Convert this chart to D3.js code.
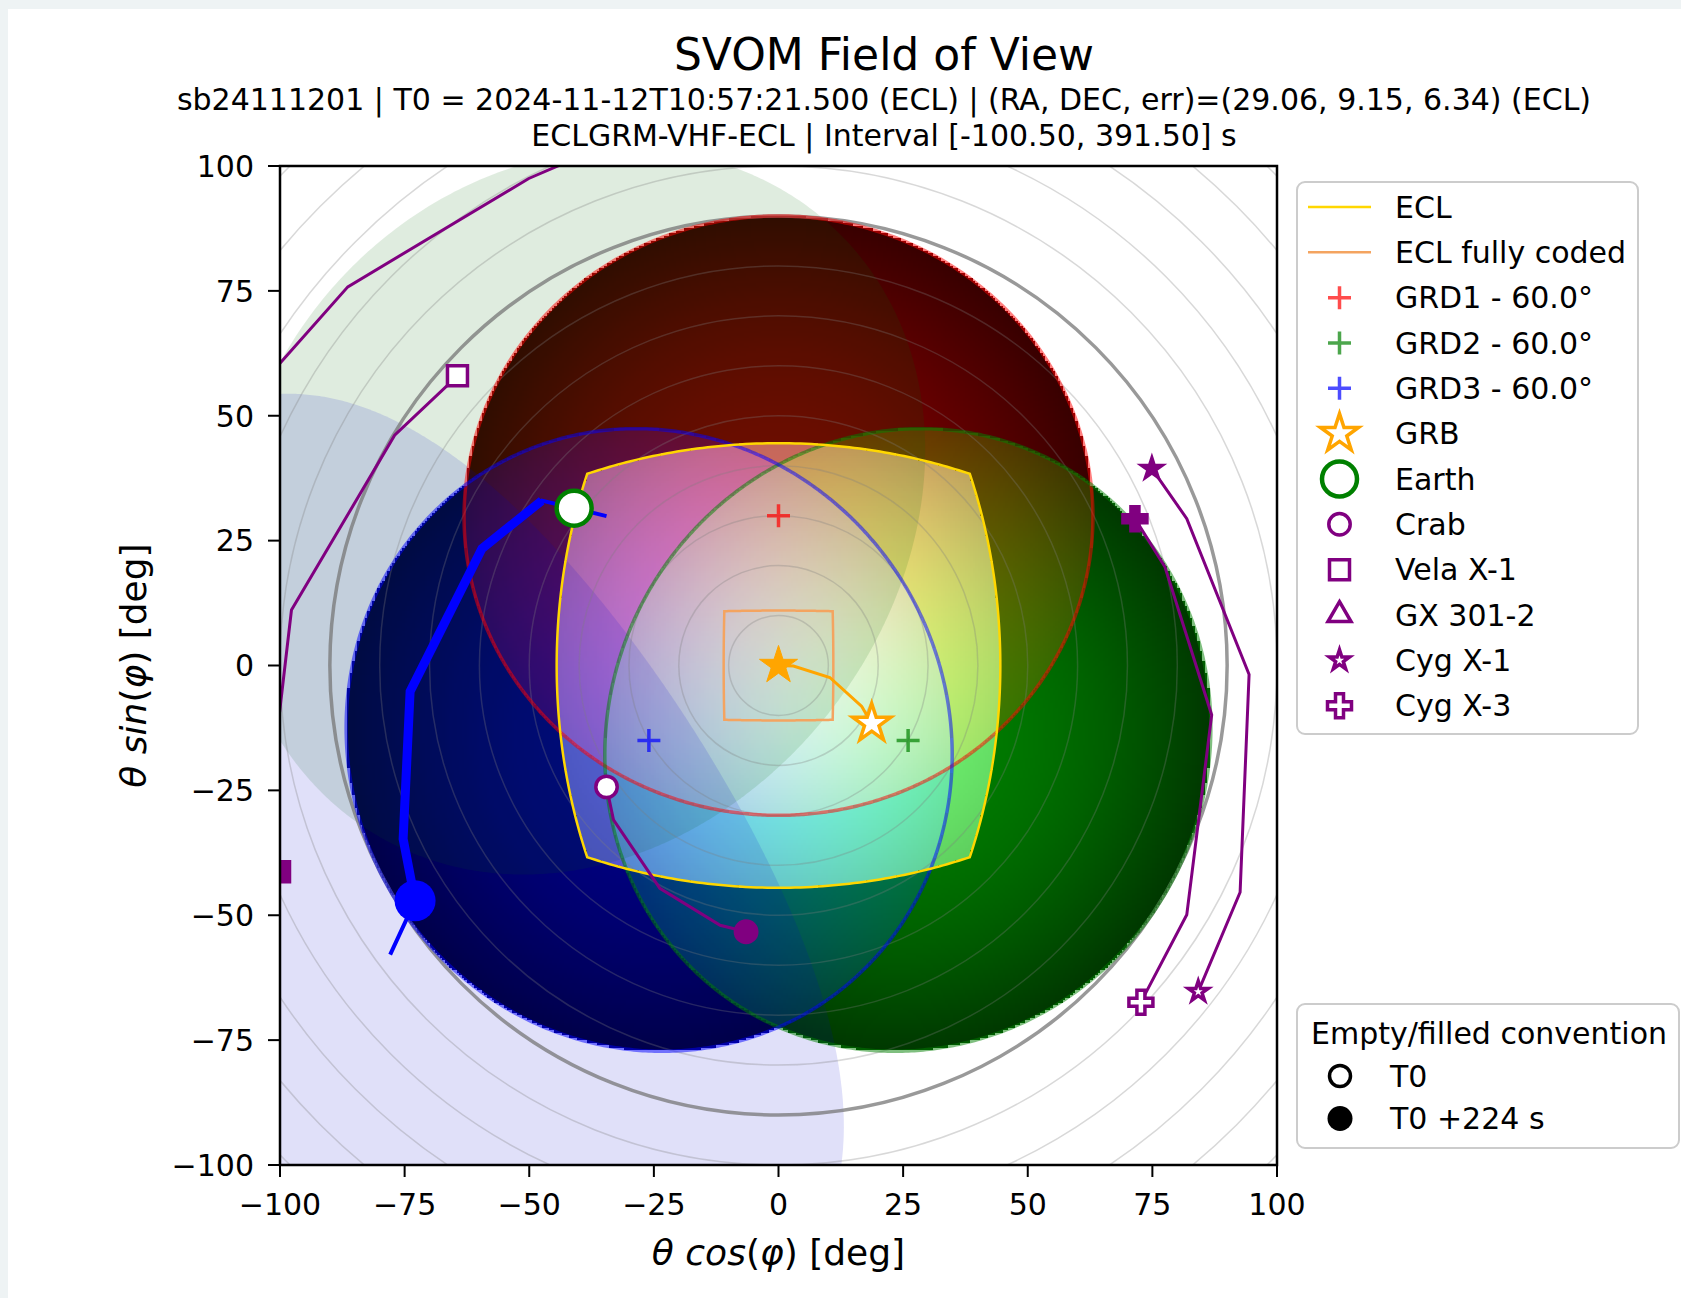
<!DOCTYPE html>
<html>
<head>
<meta charset="utf-8">
<script src="https://cdn.jsdelivr.net/npm/d3@7"></script>
<style>
  body { margin: 0; background: #eef3f4; }
  svg { display: block; }
  text { font-family: "DejaVu Sans", sans-serif; fill: #000; }
</style>
</head>
<body>
<svg id="chart"></svg>
<script>
// values
const axisTicks = [-100, -75, -50, -25, 0, 25, 50, 75, 100];
const ringRadii = [10, 20, 30, 40, 50, 60, 70, 80, 100, 110, 120, 130, 140];
const fovRingRadius = 90;

const grdLabels = ["GRD1 - 60.0°", "GRD2 - 60.0°", "GRD3 - 60.0°"];
const grdColors = ["#ff0000", "#008000", "#0000ff"];
const grdCenters = [[0, 30], [26, -15], [-26, -15]];
const grdRadius = 60;

const eclHalfAngle = 44.5;
const eclCodedHalfAngle = 11;

const earthTrack = [[-34.5, 29.9], [-41.0, 31.5], [-47.5, 33.0], [-59.5, 23.4], [-73.9, -5.2], [-75.3, -34.7], [-72.9, -47.1], [-77.9, -57.9]];
const earthT0Index = 1;
const earthT224Index = 6;
const earthRadius = 65.5;

const grbTrack = [[18.7, -11.6], [16.7, -8.2], [10.3, -2.4], [3.0, -0.1], [0, 0]];

const sourceNames = ["Crab", "Vela X-1", "GX 301-2", "Cyg X-1", "Cyg X-3"];
const sourceSymbols = ["circle", "square", "triangle", "star", "cross"];
const sourceTracks = [
  [[-34.5, -24.3], [-33.1, -30.9], [-23.8, -44.6], [-11.7, -52.0], [-6.5, -53.3]],
  [[-64.4, 58.0], [-77.0, 46.1], [-97.7, 11.1], [-102.5, -30.0], [-100.1, -41.3]],
  [[-108.0, 51.5], [-86.4, 75.8], [-50.1, 97.5], [-35.0, 104.0]],
  [[84.2, -65.3], [92.6, -45.4], [94.4, -1.8], [81.9, 29.4], [74.9, 39.4]],
  [[72.7, -67.4], [81.9, -49.9], [86.9, -9.9], [77.5, 19.8], [71.5, 29.4]]
];

const titleText = "SVOM Field of View";
const subtitleLines = [
  "sb24111201 | T0 = 2024-11-12T10:57:21.500 (ECL) | (RA, DEC, err)=(29.06, 9.15, 6.34) (ECL)",
  "ECLGRM-VHF-ECL | Interval [-100.50, 391.50] s"
];
const conventionTitle = "Empty/filled convention";
const conventionLabels = ["T0", "T0 +224 s"];

const W = 1681, H = 1298;
const purple = "#800080";
const rad = Math.PI / 180;

const svg = d3.select("#chart").attr("width", W).attr("height", H);
svg.append("rect").attr("x", 8).attr("y", 9).attr("width", W - 8).attr("height", H - 9).attr("fill", "#fff");

const x = d3.scaleLinear().domain([-100, 100]).range([280, 1277]);
const y = d3.scaleLinear().domain([-100, 100]).range([1165, 166]);

svg.append("clipPath").attr("id", "plotClip")
  .append("rect").attr("x", x(-100)).attr("y", y(100))
  .attr("width", x(100) - x(-100)).attr("height", y(-100) - y(100));

// (θcosφ, θsinφ) <-> lon/lat with the pointing axis at the pole
const toGeo = ([px, py]) => [Math.atan2(py, px) / rad, 90 - Math.hypot(px, py)];
const fromGeo = ([lon, lat]) => [(90 - lat) * Math.cos(lon * rad), (90 - lat) * Math.sin(lon * rad)];
const cone = (c, r) => d3.geoCircle().center(toGeo(c)).radius(r).precision(0.5)().coordinates[0].map(fromGeo);

// square field of view, straight in the tangent plane
function tangentSquare(half) {
  const T = Math.tan(half * rad);
  const s = d3.range(-T, T + 1e-9, T / 40);
  const uv = [
    ...s.map(v => [T, v]),
    ...s.map(u => [-u, T]),
    ...s.map(v => [-T, -v]),
    ...s.map(u => [u, -T])
  ];
  return uv.map(([u, v]) => {
    const t = Math.atan(Math.hypot(u, v)) / rad, f = Math.atan2(v, u);
    return [t * Math.cos(f), t * Math.sin(f)];
  });
}

const line = d3.line().x(d => x(d[0])).y(d => y(d[1]));
const closed = d3.line().x(d => x(d[0])).y(d => y(d[1])).curve(d3.curveLinearClosed);

const plot = svg.append("g").attr("clip-path", "url(#plotClip)");

// detector sensitivity picture: R,G,B = GRD1,2,3, brighter inside ECL
const N = 400;
const canvas = document.createElement("canvas");
canvas.width = N; canvas.height = N;
const ctx = canvas.getContext("2d");
const img = ctx.createImageData(N, N);
const cell = d3.scaleLinear().domain([0, N]).range([-100, 100]);
const grdGeo = grdCenters.map(toGeo);
const Tecl = Math.tan(eclHalfAngle * rad);
for (let j = 0; j < N; j++) {
  for (let i = 0; i < N; i++) {
    const px = cell(i + 0.5), py = -cell(j + 0.5);
    const p = toGeo([px, py]);
    const ch = [0, 0, 0];
    let seen = false;
    grdGeo.forEach((c, k) => {
      const d = d3.geoDistance(p, c);
      if (d < grdRadius * rad) { ch[k] = 0.5 * Math.pow(Math.cos(d), 1.2); seen = true; }
    });
    if (!seen) continue;
    const th = Math.hypot(px, py);
    if (th < 89) {
      const tr = Math.tan(th * rad), f = Math.atan2(py, px);
      if (Math.abs(tr * Math.cos(f)) <= Tecl && Math.abs(tr * Math.sin(f)) <= Tecl) {
        const e = 0.3 + 0.2 * Math.cos(th * rad) ** 2;
        for (let k = 0; k < 3; k++) ch[k] += e;
      }
    }
    const o = (j * N + i) * 4;
    img.data[o] = Math.min(255, ch[0] * 255);
    img.data[o + 1] = Math.min(255, ch[1] * 255);
    img.data[o + 2] = Math.min(255, ch[2] * 255);
    img.data[o + 3] = 255;
  }
}
ctx.putImageData(img, 0, 0);
plot.append("image")
  .attr("href", canvas.toDataURL())
  .attr("x", x(-100)).attr("y", y(100))
  .attr("width", x(100) - x(-100)).attr("height", y(-100) - y(100))
  .attr("preserveAspectRatio", "none")
  .style("image-rendering", "pixelated");

// Earth occultation at T0 and T0+224 s
plot.append("path").attr("d", closed(cone(earthTrack[earthT0Index], earthRadius)))
  .attr("fill", "#006400").attr("fill-opacity", 0.125);
plot.append("path").attr("d", closed(cone(earthTrack[earthT224Index], earthRadius)))
  .attr("fill", "#0000cd").attr("fill-opacity", 0.12);

// off-axis rings
plot.selectAll(".ring").data(ringRadii).join("ellipse")
  .attr("class", "ring")
  .attr("cx", x(0)).attr("cy", y(0))
  .attr("rx", d => x(d) - x(0)).attr("ry", d => y(0) - y(d))
  .attr("fill", "none").attr("stroke", "#7f7f7f").attr("stroke-opacity", 0.3).attr("stroke-width", 1.5);
plot.append("ellipse")
  .attr("cx", x(0)).attr("cy", y(0))
  .attr("rx", x(fovRingRadius) - x(0)).attr("ry", y(0) - y(fovRingRadius))
  .attr("fill", "none").attr("stroke", "#777").attr("stroke-opacity", 0.75).attr("stroke-width", 3.5);

// GRD cones
plot.selectAll(".grd").data(grdCenters).join("path")
  .attr("class", "grd")
  .attr("d", d => closed(cone(d, grdRadius)))
  .attr("fill", "none")
  .attr("stroke", (d, i) => grdColors[i]).attr("stroke-opacity", 0.5).attr("stroke-width", 3.5);

// ECL field of view
plot.append("path").attr("d", closed(tangentSquare(eclHalfAngle)))
  .attr("fill", "none").attr("stroke", "#ffd700").attr("stroke-width", 2.5);
plot.append("path").attr("d", closed(tangentSquare(eclCodedHalfAngle)))
  .attr("fill", "none").attr("stroke", "#f4a460").attr("stroke-width", 2.5);

// GRD axes
const plusPath = r => `M${-r},0H${r}M0,${-r}V${r}`;
plot.selectAll(".grdAxis").data(grdCenters).join("path")
  .attr("class", "grdAxis")
  .attr("transform", d => `translate(${x(d[0])},${y(d[1])})`)
  .attr("d", plusPath(11.5))
  .attr("stroke", (d, i) => grdColors[i]).attr("stroke-opacity", 0.7).attr("stroke-width", 3.5);

// tracks
plot.append("path").attr("d", line(earthTrack))
  .attr("fill", "none").attr("stroke", "#0000ff").attr("stroke-width", 4);
plot.append("path").attr("d", line(earthTrack.slice(earthT0Index + 1, earthT224Index + 1)))
  .attr("fill", "none").attr("stroke", "#0000ff").attr("stroke-width", 9).attr("stroke-linejoin", "miter");
plot.append("path").attr("d", line(grbTrack))
  .attr("fill", "none").attr("stroke", "#ffa500").attr("stroke-width", 3);
plot.selectAll(".src").data(sourceTracks).join("path")
  .attr("class", "src")
  .attr("d", d => line(d))
  .attr("fill", "none").attr("stroke", purple).attr("stroke-width", 3);

// markers
const symbolTypes = { circle: d3.symbolCircle, square: d3.symbolSquare, triangle: d3.symbolTriangle, star: d3.symbolStar, cross: d3.symbolCross };
const symbolSizes = { circle: 360, square: 400, triangle: 230, star: 125, cross: 320 };
const sym = (t, s) => d3.symbol().type(symbolTypes[t]).size(s)();

function marker(g, px, py, d, fill, stroke, sw) {
  g.append("path").attr("d", d)
    .attr("transform", `translate(${px},${py})`)
    .attr("fill", fill).attr("stroke", stroke).attr("stroke-width", sw)
    .attr("stroke-linejoin", "miter");
}

sourceTracks.forEach((tr, i) => {
  const t = sourceSymbols[i], d = sym(t, symbolSizes[t]);
  const a = tr[0], b = tr[tr.length - 1];
  marker(plot, x(a[0]), y(a[1]), d, "#fff", purple, 3.5);
  marker(plot, x(b[0]), y(b[1]), d, purple, purple, 3.5);
});

const grbStar = sym("star", 450);
const g0 = grbTrack[0], g1 = grbTrack[grbTrack.length - 1];
marker(plot, x(g0[0]), y(g0[1]), grbStar, "#fff", "#ffa500", 3.5);
marker(plot, x(g1[0]), y(g1[1]), grbStar, "#ffa500", "#ffa500", 1);

const e0 = earthTrack[earthT0Index], e1 = earthTrack[earthT224Index];
plot.append("circle").attr("cx", x(e0[0])).attr("cy", y(e0[1])).attr("r", 17.5)
  .attr("fill", "#fff").attr("stroke", "#008000").attr("stroke-width", 4.5);
plot.append("circle").attr("cx", x(e1[0])).attr("cy", y(e1[1])).attr("r", 20.5)
  .attr("fill", "#0000ff");

// axes
svg.append("rect").attr("x", x(-100)).attr("y", y(100))
  .attr("width", x(100) - x(-100)).attr("height", y(-100) - y(100))
  .attr("fill", "none").attr("stroke", "#000").attr("stroke-width", 2.5);

const fmt = d => (d < 0 ? "\u2212" + (-d) : "" + d);
const xt = svg.append("g");
axisTicks.forEach(t => {
  xt.append("line").attr("x1", x(t)).attr("x2", x(t)).attr("y1", y(-100)).attr("y2", y(-100) + 12)
    .attr("stroke", "#000").attr("stroke-width", 2);
  xt.append("text").attr("x", x(t)).attr("y", 1215).attr("text-anchor", "middle")
    .attr("font-size", 30).text(fmt(t));
  xt.append("line").attr("x1", x(-100) - 12).attr("x2", x(-100)).attr("y1", y(t)).attr("y2", y(t))
    .attr("stroke", "#000").attr("stroke-width", 2);
  xt.append("text").attr("x", 254).attr("y", y(t)).attr("dy", "0.36em").attr("text-anchor", "end")
    .attr("font-size", 30).text(fmt(t));
});

function mathLabel(sel, fn) {
  const parts = [["θ", true], [" ", false], [fn, true], ["(", false], ["φ", true], [")", false], [" [deg]", false]];
  parts.forEach(([s, it]) => sel.append("tspan").attr("font-style", it ? "italic" : "normal").text(s));
}
mathLabel(svg.append("text").attr("x", x(0)).attr("y", 1265).attr("text-anchor", "middle").attr("font-size", 36), "cos");
mathLabel(svg.append("text").attr("transform", `translate(146,${y(0)}) rotate(-90)`).attr("text-anchor", "middle").attr("font-size", 36), "sin");

// titles
svg.append("text").attr("x", 884).attr("y", 70).attr("text-anchor", "middle").attr("font-size", 44).text(titleText);
subtitleLines.forEach((s, i) => {
  svg.append("text").attr("x", 884).attr("y", 110 + i * 35.5).attr("text-anchor", "middle").attr("font-size", 30).text(s);
});

// main legend
const leg = svg.append("g");
leg.append("rect").attr("x", 1297).attr("y", 182).attr("width", 341).attr("height", 552).attr("rx", 8)
  .attr("fill", "#fff").attr("fill-opacity", 0.8).attr("stroke", "#cccccc").attr("stroke-width", 2);
const legendLabels = ["ECL", "ECL fully coded", ...grdLabels, "GRB", "Earth", ...sourceNames];
const rowY = i => 207 + i * 45.33;
const hx = 1339.5;
legendLabels.forEach((lab, i) => {
  leg.append("text").attr("x", 1395).attr("y", rowY(i)).attr("dy", "0.36em").attr("font-size", 30).text(lab);
});
leg.append("line").attr("x1", 1308).attr("x2", 1371).attr("y1", rowY(0)).attr("y2", rowY(0)).attr("stroke", "#ffd700").attr("stroke-width", 2.5);
leg.append("line").attr("x1", 1308).attr("x2", 1371).attr("y1", rowY(1)).attr("y2", rowY(1)).attr("stroke", "#f4a460").attr("stroke-width", 2.5);
grdColors.forEach((c, k) => {
  leg.append("path").attr("transform", `translate(${hx},${rowY(2 + k)})`).attr("d", plusPath(11.5))
    .attr("stroke", c).attr("stroke-opacity", 0.7).attr("stroke-width", 3.5);
});
marker(leg, hx, rowY(5), grbStar, "#fff", "#ffa500", 3.5);
leg.append("circle").attr("cx", hx).attr("cy", rowY(6)).attr("r", 17.5)
  .attr("fill", "#fff").attr("stroke", "#008000").attr("stroke-width", 4.5);
sourceSymbols.forEach((t, k) => {
  marker(leg, hx, rowY(7 + k), sym(t, symbolSizes[t]), "#fff", purple, 3.5);
});

// empty / filled legend
const leg2 = svg.append("g");
leg2.append("rect").attr("x", 1297).attr("y", 1004).attr("width", 382).attr("height", 144).attr("rx", 8)
  .attr("fill", "#fff").attr("fill-opacity", 0.8).attr("stroke", "#cccccc").attr("stroke-width", 2);
leg2.append("text").attr("x", 1311).attr("y", 1033).attr("dy", "0.36em").attr("font-size", 30).text(conventionTitle);
conventionLabels.forEach((lab, i) => {
  const cy = 1076 + i * 42.5;
  leg2.append("text").attr("x", 1390).attr("y", cy).attr("dy", "0.36em").attr("font-size", 30).text(lab);
  leg2.append("circle").attr("cx", 1340).attr("cy", cy).attr("r", i === 0 ? 10.5 : 12.5)
    .attr("fill", i === 0 ? "#fff" : "#000").attr("stroke", "#000").attr("stroke-width", i === 0 ? 3.5 : 0);
});
</script>
</body>
</html>
